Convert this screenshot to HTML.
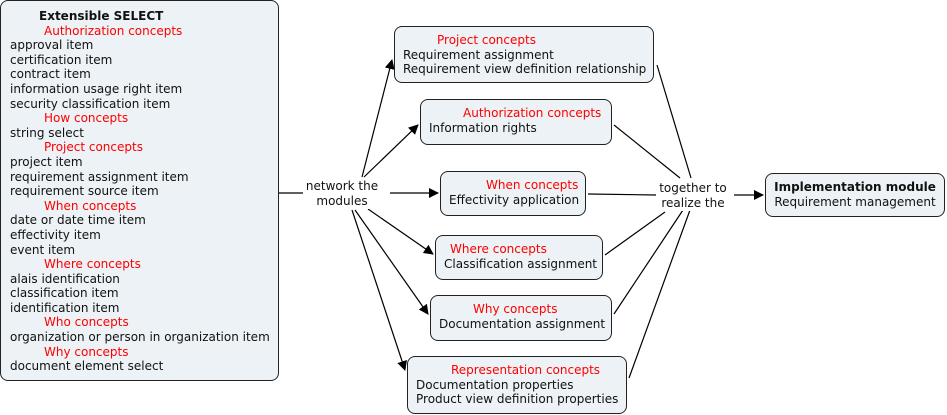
<!DOCTYPE html>
<html><head><meta charset="utf-8"><style>
body{margin:0;width:947px;height:415px;background:#fff;position:relative;overflow:hidden;font-family:"DejaVu Sans","Liberation Sans",sans-serif;font-size:12px;color:#111}
.b{position:absolute;background:#ecf2f5;border:1px solid #222;border-radius:8px;box-sizing:border-box;line-height:14.6px;padding-top:6px;white-space:nowrap}
.r{color:#f00}
.l{position:absolute;text-align:center;line-height:15px;background:#fff;white-space:nowrap}
svg{position:absolute;left:0;top:0}
</style></head><body>
<svg width="947" height="415">
<defs><marker id="a" markerWidth="10" markerHeight="10" refX="9" refY="5" orient="auto" markerUnits="userSpaceOnUse"><path d="M0,0 L10,5 L0,10 z" fill="#000"/></marker></defs>
<g stroke="#000" stroke-width="1.2" fill="none">
<line x1="279" y1="193" x2="303" y2="193"/>
<line x1="362" y1="177" x2="392" y2="60" marker-end="url(#a)"/>
<line x1="364" y1="177" x2="418" y2="125" marker-end="url(#a)"/>
<line x1="390" y1="193" x2="438" y2="193" marker-end="url(#a)"/>
<line x1="368" y1="209" x2="433" y2="254" marker-end="url(#a)"/>
<line x1="355" y1="210" x2="428" y2="314" marker-end="url(#a)"/>
<line x1="352" y1="210" x2="405" y2="370" marker-end="url(#a)"/>
<line x1="657" y1="65" x2="691" y2="178"/>
<line x1="614" y1="125" x2="680" y2="178"/>
<line x1="588" y1="194" x2="656" y2="195"/>
<line x1="605" y1="255" x2="665" y2="212"/>
<line x1="614" y1="314" x2="683" y2="210"/>
<line x1="629" y1="378" x2="690" y2="210"/>
<line x1="734" y1="195" x2="763" y2="195" marker-end="url(#a)"/>
</g></svg>
<div class="b" style="left:0;top:0;width:279px;height:381px;padding-left:9px;padding-top:8px">
<div style="margin-left:29px;font-weight:bold">Extensible SELECT</div>
<div class="r" style="margin-left:34px">Authorization concepts</div>
<div>approval item</div><div>certification item</div><div>contract item</div><div>information usage right item</div><div>security classification item</div>
<div class="r" style="margin-left:34px">How concepts</div>
<div>string select</div>
<div class="r" style="margin-left:34px">Project concepts</div>
<div>project item</div><div>requirement assignment item</div><div>requirement source item</div>
<div class="r" style="margin-left:34px">When concepts</div>
<div>date or date time item</div><div>effectivity item</div><div>event item</div>
<div class="r" style="margin-left:34px">Where concepts</div>
<div>alais identification</div><div>classification item</div><div>identification item</div>
<div class="r" style="margin-left:34px">Who concepts</div>
<div>organization or person in organization item</div>
<div class="r" style="margin-left:34px">Why concepts</div>
<div>document element select</div>
</div>
<div class="b" style="left:394px;top:26px;width:260px;height:57px;padding-left:8px">
<div class="r" style="margin-left:34px">Project concepts</div><div>Requirement assignment</div><div>Requirement view definition relationship</div></div>
<div class="b" style="left:420px;top:99px;width:192px;height:46px;padding-left:8px">
<div class="r" style="margin-left:34px">Authorization concepts</div><div>Information rights</div></div>
<div class="b" style="left:440px;top:171px;width:146px;height:45px;padding-left:8px">
<div class="r" style="margin-left:37px">When concepts</div><div>Effectivity application</div></div>
<div class="b" style="left:435px;top:235px;width:168px;height:45px;padding-left:8px">
<div class="r" style="margin-left:6px">Where concepts</div><div>Classification assignment</div></div>
<div class="b" style="left:430px;top:295px;width:182px;height:46px;padding-left:8px">
<div class="r" style="margin-left:34px">Why concepts</div><div>Documentation assignment</div></div>
<div class="b" style="left:407px;top:356px;width:220px;height:58px;padding-left:8px">
<div class="r" style="margin-left:35px">Representation concepts</div><div>Documentation properties</div><div>Product view definition properties</div></div>
<div class="b" style="left:765px;top:173px;width:180px;height:44px;text-align:center">
<div style="font-weight:bold">Implementation module</div><div>Requirement management</div></div>
<div class="l" style="left:304px;top:179px;width:76px">network the<br>modules</div>
<div class="l" style="left:656px;top:181px;width:74px">together to<br>realize the</div>
</body></html>
